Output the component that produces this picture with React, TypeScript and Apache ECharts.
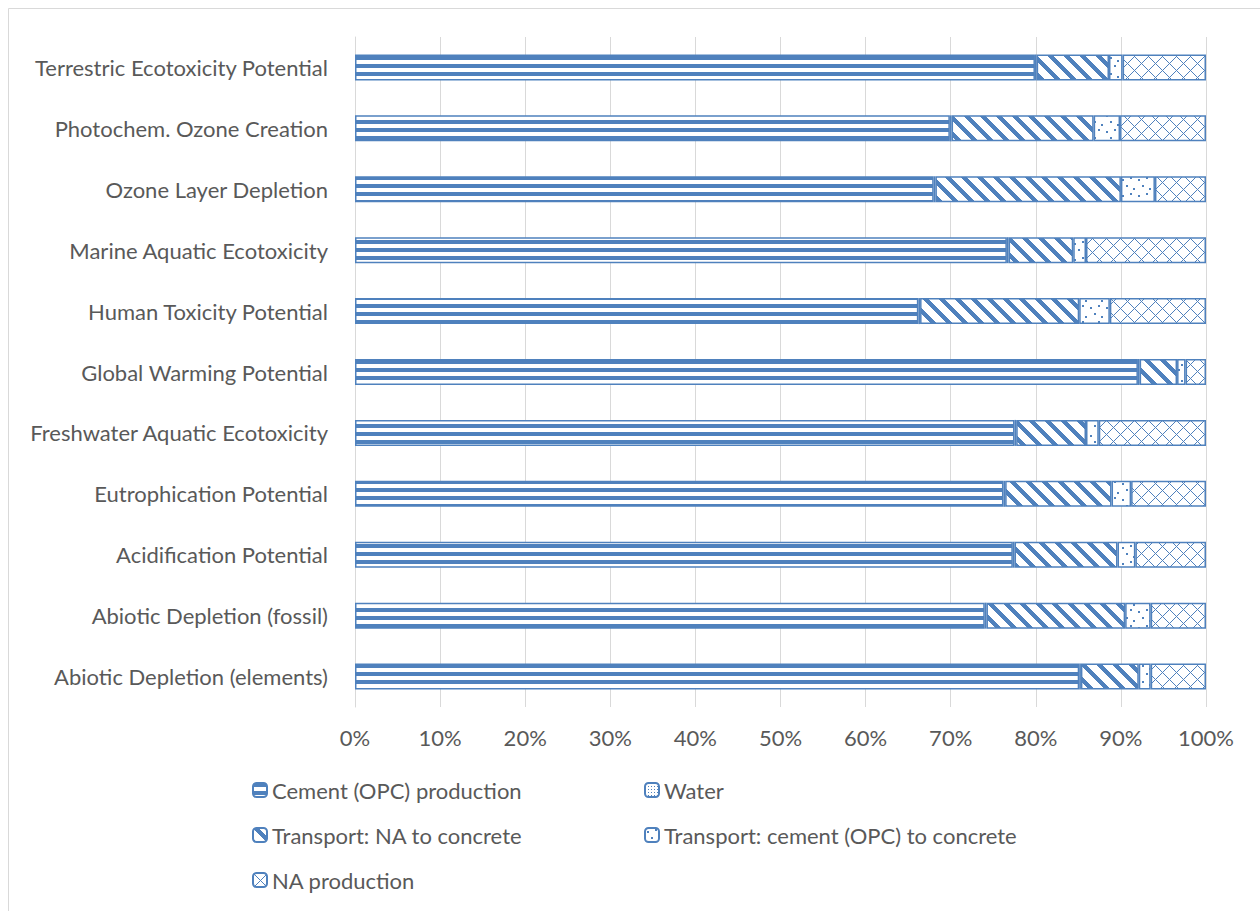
import React, { useEffect, useRef } from 'react';
import * as echarts from 'echarts';

const categories = [
  'Abiotic Depletion (elements)',
  'Abiotic Depletion (fossil)',
  'Acidification Potential',
  'Eutrophication Potential',
  'Freshwater Aquatic Ecotoxicity',
  'Global Warming Potential',
  'Human Toxicity Potential',
  'Marine Aquatic Ecotoxicity',
  'Ozone Layer Depletion',
  'Photochem. Ozone Creation',
  'Terrestric Ecotoxicity Potential',
];

const seriesNames = [
  'Cement (OPC) production',
  'Water',
  'Transport: NA to concrete',
  'Transport: cement (OPC) to concrete',
  'NA production',
];

const cementProduction = [85.1, 74.0, 77.3, 76.2, 77.5, 92.0, 66.2, 76.6, 68.0, 69.9, 79.9];
const water = [0.2, 0.2, 0.2, 0.2, 0.2, 0.2, 0.2, 0.2, 0.2, 0.2, 0.2];
const transportNA = [6.8, 16.3, 12.1, 12.5, 8.2, 4.4, 18.7, 7.6, 21.8, 16.7, 8.5];
const transportCement = [1.4, 3.0, 2.1, 2.3, 1.5, 1.0, 3.6, 1.5, 4.0, 3.1, 1.6];
const naProduction = [6.5, 6.5, 8.3, 8.8, 12.6, 2.4, 11.3, 14.1, 6.0, 10.1, 9.8];

const xTicks = [0, 10, 20, 30, 40, 50, 60, 70, 80, 90, 100];

const BLUE = '#4F81BD';
const TEXT = '#595959';
const FONT = 'Lato, "Liberation Sans", sans-serif';

function makePattern(w: number, h: number, test: (x: number, y: number) => boolean) {
  const c = document.createElement('canvas');
  c.width = w;
  c.height = h;
  const ctx = c.getContext('2d')!;
  ctx.fillStyle = '#ffffff';
  ctx.fillRect(0, 0, w, h);
  ctx.fillStyle = BLUE;
  for (let y = 0; y < h; y++) {
    for (let x = 0; x < w; x++) {
      if (test(x, y)) ctx.fillRect(x, y, 1, 1);
    }
  }
  return { image: c, repeat: 'repeat' } as any;
}

export default function App() {
  const ref = useRef<HTMLDivElement>(null);

  useEffect(() => {
    document.body.style.margin = '0';
    if (!ref.current) return;
    const chart = echarts.init(ref.current, undefined, { renderer: 'svg' });

    const mod = (a: number, m: number) => ((a % m) + m) % m;
    const patterns = [
      makePattern(8, 8, (x, y) => y < 4),
      makePattern(6, 6, (x, y) => x % 3 === 0 && y % 3 === 0),
      makePattern(16, 16, (x, y) => mod(x - y, 16) < 6),
      makePattern(16, 16, (x, y) => {
        const pts = [[2, 3], [10, 1], [6, 9], [13, 12]];
        return pts.some(([px, py]) => (x === px || x === px + 1) && (y === py || y === py + 1));
      }),
      makePattern(14, 14, (x, y) => mod(x - y, 14) === 0 || mod(x + y, 14) === 0),
    ];
    const datasets = [cementProduction, water, transportNA, transportCement, naProduction];

    const legendPos = [
      [252, 779],
      [644, 779],
      [252, 824],
      [644, 824],
      [252, 869],
    ];

    chart.setOption({
      animation: false,
      backgroundColor: '#ffffff',
      graphic: [
        {
          type: 'rect',
          silent: true,
          z: -10,
          shape: { x: 8.5, y: 8.5, width: 1400, height: 1100 },
          style: { fill: 'none', stroke: '#d9d9d9', lineWidth: 1 },
        },
      ],
      grid: { left: 355, right: 54, top: 37, bottom: 204, containLabel: false },
      legend: seriesNames.map((n, i) => ({
        data: [n],
        left: legendPos[i][0],
        top: legendPos[i][1],
        itemWidth: 14,
        itemHeight: 14,
        padding: 0,
        selectedMode: false,
        textStyle: { color: TEXT, fontSize: 22, fontFamily: FONT },
      })),
      xAxis: {
        type: 'value',
        min: xTicks[0],
        max: xTicks[xTicks.length - 1],
        interval: 10,
        axisLine: { show: false },
        axisTick: { show: false },
        splitLine: { show: true, lineStyle: { color: '#d9d9d9', width: 1 } },
        axisLabel: {
          formatter: '{value}%',
          color: TEXT,
          fontSize: 22,
          fontFamily: FONT,
          margin: 19,
        },
      },
      yAxis: {
        type: 'category',
        data: categories,
        axisLine: { show: true, lineStyle: { color: '#d9d9d9', width: 1 } },
        axisTick: { show: false },
        axisLabel: { color: TEXT, fontSize: 22, fontFamily: FONT, margin: 27 },
      },
      series: seriesNames.map((n, i) => ({
        name: n,
        type: 'bar',
        stack: 'total',
        barWidth: 26,
        data: datasets[i],
        itemStyle: { color: patterns[i], borderColor: BLUE, borderWidth: 1.5 },
        emphasis: { disabled: true },
      })),
    });

    return () => chart.dispose();
  }, []);

  return <div ref={ref} style={{ width: 1260, height: 911 }} />;
}
